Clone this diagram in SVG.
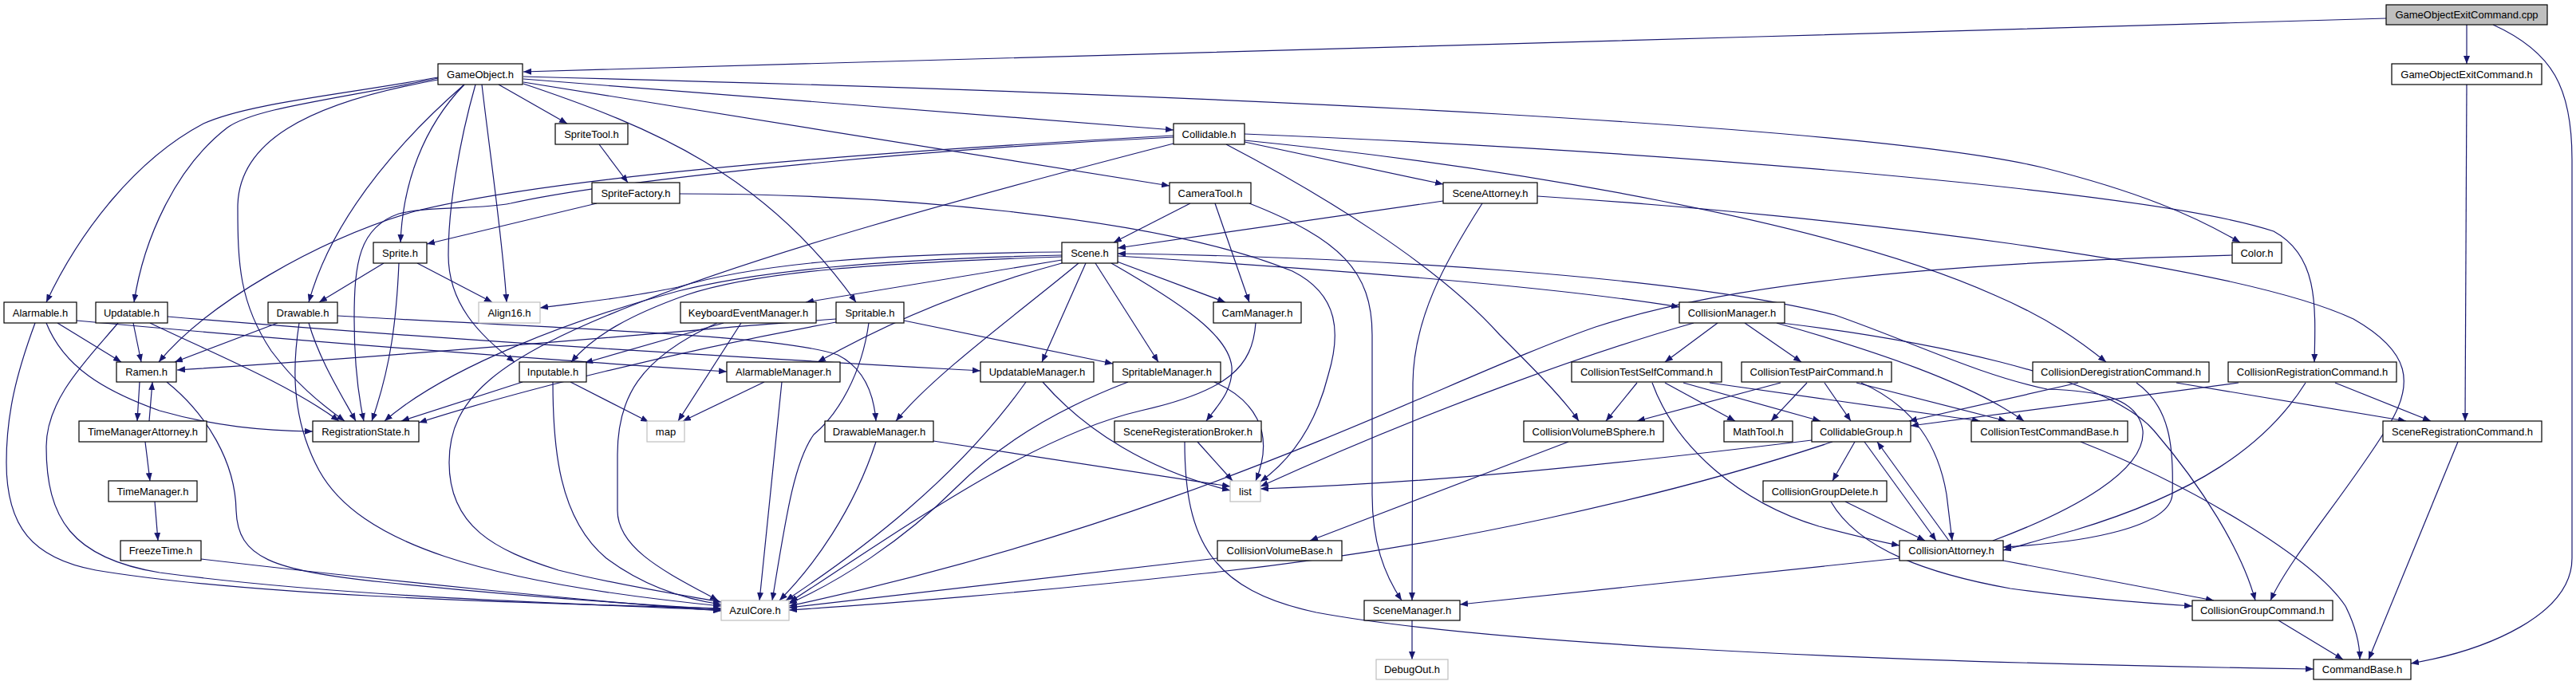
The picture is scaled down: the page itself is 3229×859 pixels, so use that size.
<svg xmlns="http://www.w3.org/2000/svg" width="3229" height="859" viewBox="0 0 3229 859">
<style>
.e{fill:none;stroke:#191970;stroke-width:1.2;marker-end:url(#a)}
.n rect{fill:#fff;stroke:#000;stroke-width:1.2}
.x rect{fill:#fff;stroke:#bfbfbf;stroke-width:1.2}
.r rect{fill:#bfbfbf;stroke:#000;stroke-width:1.2}
text{font-family:"Liberation Sans",Arial,Helvetica,sans-serif;font-size:13px;text-anchor:middle;fill:#000}
</style>
<defs>
<marker id="a" markerUnits="userSpaceOnUse" viewBox="0 0 10 8" refX="10" refY="4" markerWidth="10" markerHeight="8" orient="auto">
<path d="M0,0 L10,4 L0,8 z" fill="#191970"/>
</marker>
</defs>
<rect width="3229" height="859" fill="#fff"/>
<g id="connectors">
<path class="e" d="M2991,23 C2200,45 1200,78 656,90"/>
<path class="e" d="M3092,31 L3092,80"/>
<path class="e" d="M3125,31 C3200,65 3224,110 3224,200 L3224,700 C3224,770 3120,815 3022,832"/>
<path class="e" d="M3092,106 L3090,528"/>
<path class="e" d="M549,97 C420,120 310,130 255,155 C170,200 100,290 58,379"/>
<path class="e" d="M549,98 C420,125 320,135 285,160 C220,210 180,300 168,379"/>
<path class="e" d="M549,100 C380,130 298,180 298,260 C298,330 300,380 340,440 C370,480 400,505 432,528"/>
<path class="e" d="M582,106 C520,160 420,260 387,379"/>
<path class="e" d="M582,106 C530,160 505,230 502,304"/>
<path class="e" d="M596,106 C575,180 562,260 562,320 C562,380 600,420 645,454"/>
<path class="e" d="M604,106 C615,200 630,300 635,379"/>
<path class="e" d="M625,106 L711,155"/>
<path class="e" d="M656,105 C820,160 960,220 1073,379"/>
<path class="e" d="M656,103 L1466,233"/>
<path class="e" d="M656,99 L1471,163"/>
<path class="e" d="M656,96 C1600,120 2350,160 2560,210 C2680,240 2750,270 2808,304"/>
<path class="e" d="M751,181 L787,229"/>
<path class="e" d="M748,255 L535,306"/>
<path class="e" d="M852,243 C1100,243 1450,270 1620,340 C1680,370 1680,420 1665,470 C1650,530 1620,575 1580,604"/>
<path class="e" d="M481,330 L400,379"/>
<path class="e" d="M523,330 L617,379"/>
<path class="e" d="M500,330 C497,400 490,460 466,528"/>
<path class="e" d="M72,405 L152,454"/>
<path class="e" d="M58,405 C80,460 130,490 200,515 C270,535 330,540 392,541"/>
<path class="e" d="M44,405 C20,470 8,520 8,580 C8,660 40,700 120,715 C300,745 600,755 904,763"/>
<path class="e" d="M96,402 C400,430 700,452 911,466"/>
<path class="e" d="M167,405 L177,454"/>
<path class="e" d="M148,405 C110,450 58,500 58,560 C58,650 90,700 200,718 C400,745 650,755 904,765"/>
<path class="e" d="M188,405 C260,440 360,480 425,528"/>
<path class="e" d="M210,397 C600,430 1000,452 1229,465"/>
<path class="e" d="M348,405 L219,454"/>
<path class="e" d="M375,405 C368,450 362,520 400,590 C450,680 600,730 904,760"/>
<path class="e" d="M387,405 C400,450 425,490 446,528"/>
<path class="e" d="M423,396 C700,412 980,420 1050,445 C1080,460 1095,490 1098,528"/>
<path class="e" d="M175,479 L172,528"/>
<path class="e" d="M187,528 L191,479"/>
<path class="e" d="M209,479 C260,520 295,580 296,640 C298,700 340,715 480,730 C650,748 800,758 904,764"/>
<path class="e" d="M182,554 L188,603"/>
<path class="e" d="M194,629 L198,678"/>
<path class="e" d="M252,701 C500,730 750,755 904,766"/>
<path class="e" d="M1471,170 C1100,190 700,220 520,265 C400,300 260,380 199,454"/>
<path class="e" d="M1471,172 C1100,190 750,230 640,255 C600,263 540,258 500,268 C450,285 444,330 444,400 C444,460 450,500 456,528"/>
<path class="e" d="M1471,180 C1200,250 950,320 800,380 C620,450 563,500 563,580 C563,660 620,690 700,715 C780,735 850,745 904,755"/>
<path class="e" d="M1560,178 L1809,231"/>
<path class="e" d="M1537,181 C1650,240 1800,330 1880,420 C1920,460 1960,500 1979,528"/>
<path class="e" d="M1560,168 C2100,190 2700,240 2850,290 C2905,320 2903,380 2901,454"/>
<path class="e" d="M1560,176 C1900,210 2300,280 2500,370 C2570,400 2610,430 2640,454"/>
<path class="e" d="M2798,320 C2400,330 2150,360 2000,410 C1800,480 1500,650 989,760"/>
<path class="e" d="M1492,255 L1396,304"/>
<path class="e" d="M1523,255 L1566,379"/>
<path class="e" d="M1566,255 C1680,300 1720,340 1720,420 L1720,620 C1720,680 1735,720 1757,753"/>
<path class="e" d="M1809,252 L1401,311"/>
<path class="e" d="M1858,255 C1810,330 1772,400 1771,480 L1770,753"/>
<path class="e" d="M1927,246 C2300,270 2800,330 2950,400 C3020,440 3030,480 2990,540 C2940,620 2870,700 2846,753"/>
<path class="e" d="M1331,316 C1100,318 950,330 850,360 C780,375 720,380 677,386"/>
<path class="e" d="M1331,326 L1010,379"/>
<path class="e" d="M1331,322 C1100,330 950,340 860,370 C790,395 745,420 716,454"/>
<path class="e" d="M1331,320 C1100,325 950,340 850,365 C720,400 560,460 482,528"/>
<path class="e" d="M1331,330 C1220,360 1120,400 1025,454"/>
<path class="e" d="M1352,330 C1280,390 1170,470 1123,528"/>
<path class="e" d="M1361,330 L1306,454"/>
<path class="e" d="M1373,330 L1452,454"/>
<path class="e" d="M1393,330 C1480,380 1540,420 1544,460 C1546,490 1525,510 1512,528"/>
<path class="e" d="M1400,328 L1536,379"/>
<path class="e" d="M1401,321 C1700,340 1950,360 2105,385"/>
<path class="e" d="M2498,678 C2600,640 2690,590 2686,540 C2680,495 2620,490 2566,488 C2480,470 2400,430 2300,395 C2100,345 1700,322 1401,318"/>
<path class="e" d="M2153,405 L2087,454"/>
<path class="e" d="M2187,405 L2258,454"/>
<path class="e" d="M2227,405 C2350,440 2470,480 2537,528"/>
<path class="e" d="M2123,405 C2000,440 1800,510 1580,610"/>
<path class="e" d="M2233,405 C2400,425 2640,470 2700,540 C2760,610 2810,690 2827,753"/>
<path class="e" d="M2052,480 L2013,528"/>
<path class="e" d="M2087,480 L2175,528"/>
<path class="e" d="M2110,480 L2282,528"/>
<path class="e" d="M2143,480 L2482,528"/>
<path class="e" d="M2071,480 C2100,560 2180,630 2280,660 C2330,673 2360,680 2381,684"/>
<path class="e" d="M2232,480 L2052,528"/>
<path class="e" d="M2265,480 L2220,528"/>
<path class="e" d="M2287,480 L2320,528"/>
<path class="e" d="M2327,480 L2515,528"/>
<path class="e" d="M2333,480 C2400,510 2430,560 2440,620 L2447,678"/>
<path class="e" d="M1966,554 L1642,678"/>
<path class="e" d="M1526,700 L989,762"/>
<path class="e" d="M2297,554 C2100,620 1800,690 1500,720 C1300,742 1100,758 989,765"/>
<path class="e" d="M2271,552 C2000,585 1800,605 1580,613"/>
<path class="e" d="M2325,554 L2297,603"/>
<path class="e" d="M2337,554 L2427,678"/>
<path class="e" d="M2443,678 L2353,554"/>
<path class="e" d="M2313,629 L2413,678"/>
<path class="e" d="M2295,629 C2330,690 2420,720 2520,738 C2620,752 2700,757 2748,760"/>
<path class="e" d="M2381,700 L1830,758"/>
<path class="e" d="M2511,703 L2775,753"/>
<path class="e" d="M2728,480 L3016,528"/>
<path class="e" d="M2678,480 C2720,510 2725,560 2723,620 C2720,660 2620,680 2511,686"/>
<path class="e" d="M2605,480 L2393,528"/>
<path class="e" d="M2927,480 L3047,528"/>
<path class="e" d="M2890,480 C2840,560 2750,620 2600,665 C2560,676 2530,685 2511,690"/>
<path class="e" d="M2806,480 L2395,534"/>
<path class="e" d="M3081,554 L2969,827"/>
<path class="e" d="M2856,778 L2937,827"/>
<path class="e" d="M2608,554 C2750,610 2900,700 2940,760 C2955,790 2958,810 2958,827"/>
<path class="e" d="M1485,554 C1485,680 1520,740 1650,768 C1850,805 2300,830 2900,839"/>
<path class="e" d="M1501,554 L1545,603"/>
<path class="e" d="M1522,479 C1570,500 1600,540 1574,603"/>
<path class="e" d="M1170,553 L1542,610"/>
<path class="e" d="M1307,479 C1360,540 1440,590 1542,615"/>
<path class="e" d="M1286,479 C1200,600 1080,690 985,753"/>
<path class="e" d="M1098,554 C1070,640 1020,710 977,753"/>
<path class="e" d="M980,479 L952,753"/>
<path class="e" d="M958,479 L856,528"/>
<path class="e" d="M929,405 L850,528"/>
<path class="e" d="M715,479 L813,529"/>
<path class="e" d="M907,405 L733,455"/>
<path class="e" d="M899,405 C800,450 774,500 774,570 L774,640 C774,690 840,720 900,753"/>
<path class="e" d="M693,479 C693,560 700,650 760,700 C800,730 850,750 904,758"/>
<path class="e" d="M1089,405 C1080,470 1050,520 1020,545 C995,580 985,650 968,753"/>
<path class="e" d="M1133,402 L1395,456"/>
<path class="e" d="M1048,404 C850,440 650,490 525,530"/>
<path class="e" d="M1048,400 C900,410 600,440 222,464"/>
<path class="e" d="M655,479 L503,528"/>
<path class="e" d="M1574,405 C1570,460 1540,490 1430,515 C1300,545 1150,650 990,755"/>
<path class="e" d="M1414,479 C1320,515 1250,560 1200,610 C1130,680 1050,730 989,757"/>
<path class="e" d="M1770,778 L1770,827"/>
</g>
<g id="n_cpp" class="r"><rect x="2991" y="6" width="202" height="25"/><text x="3092" y="23">GameObjectExitCommand.cpp</text></g>
<g id="n_GameObject" class="n"><rect x="549" y="80" width="106" height="26"/><text x="602" y="97.5">GameObject.h</text></g>
<g id="n_GameObjectExitCommand" class="n"><rect x="2998" y="80" width="188" height="26"/><text x="3092" y="97.5">GameObjectExitCommand.h</text></g>
<g id="n_SpriteTool" class="n"><rect x="696" y="155" width="91" height="26"/><text x="741.5" y="172.5">SpriteTool.h</text></g>
<g id="n_Collidable" class="n"><rect x="1471" y="155" width="89" height="26"/><text x="1515.5" y="172.5">Collidable.h</text></g>
<g id="n_SpriteFactory" class="n"><rect x="742" y="229" width="110" height="26"/><text x="797" y="246.5">SpriteFactory.h</text></g>
<g id="n_CameraTool" class="n"><rect x="1466" y="229" width="102" height="26"/><text x="1517" y="246.5">CameraTool.h</text></g>
<g id="n_SceneAttorney" class="n"><rect x="1809" y="229" width="118" height="26"/><text x="1868" y="246.5">SceneAttorney.h</text></g>
<g id="n_Sprite" class="n"><rect x="468" y="304" width="67" height="26"/><text x="501.5" y="321.5">Sprite.h</text></g>
<g id="n_Scene" class="n"><rect x="1331" y="304" width="70" height="26"/><text x="1366" y="321.5">Scene.h</text></g>
<g id="n_Color" class="n"><rect x="2798" y="304" width="62" height="26"/><text x="2829" y="321.5">Color.h</text></g>
<g id="n_Alarmable" class="n"><rect x="5" y="379" width="91" height="26"/><text x="50.5" y="396.5">Alarmable.h</text></g>
<g id="n_Updatable" class="n"><rect x="120" y="379" width="90" height="26"/><text x="165" y="396.5">Updatable.h</text></g>
<g id="n_Drawable" class="n"><rect x="336" y="379" width="87" height="26"/><text x="379.5" y="396.5">Drawable.h</text></g>
<g id="n_Align16" class="x"><rect x="600" y="379" width="77" height="26"/><text x="638.5" y="396.5">Align16.h</text></g>
<g id="n_KeyboardEventManager" class="n"><rect x="853" y="379" width="170" height="26"/><text x="938" y="396.5">KeyboardEventManager.h</text></g>
<g id="n_Spritable" class="n"><rect x="1048" y="379" width="85" height="26"/><text x="1090.5" y="396.5">Spritable.h</text></g>
<g id="n_CamManager" class="n"><rect x="1521" y="379" width="110" height="26"/><text x="1576" y="396.5">CamManager.h</text></g>
<g id="n_CollisionManager" class="n"><rect x="2105" y="379" width="132" height="26"/><text x="2171" y="396.5">CollisionManager.h</text></g>
<g id="n_Ramen" class="n"><rect x="146" y="454" width="75" height="25"/><text x="183.5" y="471">Ramen.h</text></g>
<g id="n_Inputable" class="n"><rect x="651" y="454" width="84" height="25"/><text x="693" y="471">Inputable.h</text></g>
<g id="n_AlarmableManager" class="n"><rect x="911" y="454" width="142" height="25"/><text x="982" y="471">AlarmableManager.h</text></g>
<g id="n_UpdatableManager" class="n"><rect x="1229" y="454" width="142" height="25"/><text x="1300" y="471">UpdatableManager.h</text></g>
<g id="n_SpritableManager" class="n"><rect x="1395" y="454" width="135" height="25"/><text x="1462.5" y="471">SpritableManager.h</text></g>
<g id="n_CollisionTestSelfCommand" class="n"><rect x="1970" y="454" width="188" height="25"/><text x="2064" y="471">CollisionTestSelfCommand.h</text></g>
<g id="n_CollisionTestPairCommand" class="n"><rect x="2183" y="454" width="188" height="25"/><text x="2277" y="471">CollisionTestPairCommand.h</text></g>
<g id="n_CollisionDeregistrationCommand" class="n"><rect x="2548" y="454" width="221" height="25"/><text x="2658.5" y="471">CollisionDeregistrationCommand.h</text></g>
<g id="n_CollisionRegistrationCommand" class="n"><rect x="2793" y="454" width="211" height="25"/><text x="2898.5" y="471">CollisionRegistrationCommand.h</text></g>
<g id="n_TimeManagerAttorney" class="n"><rect x="99" y="528" width="160" height="26"/><text x="179" y="545.5">TimeManagerAttorney.h</text></g>
<g id="n_RegistrationState" class="n"><rect x="392" y="528" width="133" height="26"/><text x="458.5" y="545.5">RegistrationState.h</text></g>
<g id="n_map" class="x"><rect x="811" y="528" width="47" height="26"/><text x="834.5" y="545.5">map</text></g>
<g id="n_DrawableManager" class="n"><rect x="1034" y="528" width="136" height="26"/><text x="1102" y="545.5">DrawableManager.h</text></g>
<g id="n_SceneRegisterationBroker" class="n"><rect x="1397" y="528" width="184" height="26"/><text x="1489" y="545.5">SceneRegisterationBroker.h</text></g>
<g id="n_CollisionVolumeBSphere" class="n"><rect x="1910" y="528" width="175" height="26"/><text x="1997.5" y="545.5">CollisionVolumeBSphere.h</text></g>
<g id="n_MathTool" class="n"><rect x="2161" y="528" width="86" height="26"/><text x="2204" y="545.5">MathTool.h</text></g>
<g id="n_CollidableGroup" class="n"><rect x="2271" y="528" width="124" height="26"/><text x="2333" y="545.5">CollidableGroup.h</text></g>
<g id="n_CollisionTestCommandBase" class="n"><rect x="2471" y="528" width="196" height="26"/><text x="2569" y="545.5">CollisionTestCommandBase.h</text></g>
<g id="n_SceneRegistrationCommand" class="n"><rect x="2987" y="528" width="199" height="26"/><text x="3086.5" y="545.5">SceneRegistrationCommand.h</text></g>
<g id="n_TimeManager" class="n"><rect x="136" y="603" width="111" height="26"/><text x="191.5" y="620.5">TimeManager.h</text></g>
<g id="n_list" class="x"><rect x="1542" y="603" width="38" height="26"/><text x="1561" y="620.5">list</text></g>
<g id="n_CollisionGroupDelete" class="n"><rect x="2210" y="603" width="155" height="26"/><text x="2287.5" y="620.5">CollisionGroupDelete.h</text></g>
<g id="n_FreezeTime" class="n"><rect x="151" y="678" width="101" height="25"/><text x="201.5" y="695">FreezeTime.h</text></g>
<g id="n_CollisionVolumeBase" class="n"><rect x="1526" y="678" width="156" height="25"/><text x="1604" y="695">CollisionVolumeBase.h</text></g>
<g id="n_CollisionAttorney" class="n"><rect x="2381" y="678" width="130" height="25"/><text x="2446" y="695">CollisionAttorney.h</text></g>
<g id="n_AzulCore" class="x"><rect x="904" y="753" width="85" height="25"/><text x="946.5" y="770">AzulCore.h</text></g>
<g id="n_SceneManager" class="n"><rect x="1710" y="753" width="120" height="25"/><text x="1770" y="770">SceneManager.h</text></g>
<g id="n_CollisionGroupCommand" class="n"><rect x="2748" y="753" width="176" height="25"/><text x="2836" y="770">CollisionGroupCommand.h</text></g>
<g id="n_DebugOut" class="x"><rect x="1725" y="827" width="90" height="25"/><text x="1770" y="844">DebugOut.h</text></g>
<g id="n_CommandBase" class="n"><rect x="2900" y="827" width="122" height="25"/><text x="2961" y="844">CommandBase.h</text></g>
</svg>
